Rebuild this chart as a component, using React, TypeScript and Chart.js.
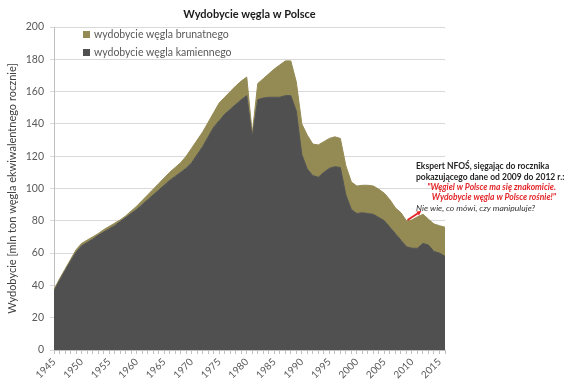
import React, { useEffect, useRef } from "react";
import { Chart, registerables } from "chart.js";

Chart.register(...registerables);

const years = [
  1945, 1946, 1947, 1948, 1949, 1950, 1951, 1952, 1953, 1954,
  1955, 1956, 1957, 1958, 1959, 1960, 1961, 1962, 1963, 1964,
  1965, 1966, 1967, 1968, 1969, 1970, 1971, 1972, 1973, 1974,
  1975, 1976, 1977, 1978, 1979, 1980, 1981, 1982, 1983, 1984,
  1985, 1986, 1987, 1988, 1989, 1990, 1991, 1992, 1993, 1994,
  1995, 1996, 1997, 1998, 1999, 2000, 2001, 2002, 2003, 2004,
  2005, 2006, 2007, 2008, 2009, 2010, 2011, 2012, 2013, 2014,
  2015, 2016,
];

// wydobycie węgla kamiennego
const hardCoal = [
  36.5, 43, 49, 55, 60.5, 64.5, 66.5, 68.5, 71, 73,
  75, 77, 79.5, 82, 84.5, 87, 90, 93, 96, 99,
  102, 105, 107.5, 110, 112.5, 116, 121, 126, 132, 138,
  142, 146, 149, 152, 155, 157.5, 132, 155, 156, 156.5,
  156.5, 156.5, 157.5, 157.5, 148, 121, 112, 108, 107, 110,
  112.5, 113.5, 113, 96, 87, 84.5, 85, 84.5, 84, 82,
  80, 76, 72, 68, 64, 63, 63, 66, 65, 61,
  60, 58,
];

// wydobycie węgla brunatnego
const lignite = [
  1, 1, 1, 1, 1.5, 1.5, 1.5, 1.5, 1, 1.5,
  1.5, 1.5, 1, 1, 1.5, 2, 2.5, 3, 3.5, 4,
  4.5, 5, 5.5, 6, 7.5, 9, 9, 9, 9, 9,
  11, 10.5, 11, 11.5, 11.5, 11.5, 2, 10, 12, 14.5,
  17.5, 20, 21.5, 21.5, 18, 19, 21, 19.5, 20, 19,
  18.5, 18.5, 18, 18, 17, 17, 17, 17.5, 17.5, 17.5,
  17, 17, 16, 17, 16, 17.5, 19.5, 18, 16, 17,
  17, 18,
];

const chartTitle = "Wydobycie węgla w Polsce";
const seriesLabels = ["wydobycie węgla kamiennego", "wydobycie węgla brunatnego"];
const yAxisTitle = "Wydobycie [mln ton węgla ekwiwalentnego rocznie]";
const noteLines = [
  "Ekspert NFOŚ, sięgając do rocznika",
  "pokazującego dane od 2009 do 2012 r.:",
];
const quoteLines = [
  "\"Węgiel w Polsce ma się znakomicie.",
  "Wydobycie węgla w Polsce rośnie!\"",
];
const commentLine = "Nie wie, co mówi, czy manipuluje?";
// arrow from (year, value) to (year, value)
const arrowFrom = [2009.2, 80.5];
const arrowTo = [2011.7, 86];

const DARK = "#505050";
const OLIVE = "#948A54";
const FONT = "Lato, 'Open Sans', sans-serif";

export default function App() {
  const ref = useRef<HTMLCanvasElement>(null);

  useEffect(() => {
    const canvas = ref.current;
    if (!canvas) return;

    const overlay = {
      id: "overlay",
      afterDraw(chart: any) {
        const ctx = chart.ctx as CanvasRenderingContext2D;
        const ca = chart.chartArea;
        ctx.save();
        // title
        ctx.font = `bold 11px ${FONT}`;
        ctx.fillStyle = "#1a1a1a";
        ctx.textAlign = "center";
        ctx.textBaseline = "middle";
        ctx.fillText(chartTitle, (ca.left + ca.right) / 2, 14);

        // legend
        ctx.font = `10.5px ${FONT}`;
        ctx.textAlign = "left";
        ctx.fillStyle = OLIVE;
        ctx.fillRect(83, 31, 7, 7);
        ctx.fillStyle = "#595959";
        ctx.fillText(seriesLabels[1], 94, 35);
        ctx.fillStyle = DARK;
        ctx.fillRect(83, 49, 7, 7);
        ctx.fillStyle = "#595959";
        ctx.fillText(seriesLabels[0], 94, 53);

        // annotation
        ctx.font = `bold 8.5px ${FONT}`;
        ctx.fillStyle = "#262626";
        ctx.fillText(noteLines[0], 416, 166);
        ctx.fillText(noteLines[1], 416, 177);
        ctx.font = `italic bold 8.5px ${FONT}`;
        ctx.fillStyle = "#e3262a";
        ctx.textAlign = "right";
        ctx.fillText(quoteLines[0], 556, 187);
        ctx.fillText(quoteLines[1], 556, 197);
        ctx.font = `italic 8.5px ${FONT}`;
        ctx.fillStyle = "#333333";
        ctx.textAlign = "left";
        ctx.fillText(commentLine, 416, 208);

        // arrow
        const xs = chart.scales.x;
        const ys = chart.scales.y;
        const x1 = xs.getPixelForValue(arrowFrom[0]);
        const y1 = ys.getPixelForValue(arrowFrom[1]);
        const x2 = xs.getPixelForValue(arrowTo[0]);
        const y2 = ys.getPixelForValue(arrowTo[1]);
        const ang = Math.atan2(y2 - y1, x2 - x1);
        ctx.strokeStyle = "#e3262a";
        ctx.fillStyle = "#e3262a";
        ctx.lineWidth = 2;
        ctx.beginPath();
        ctx.moveTo(x1, y1);
        ctx.lineTo(x2 - 3 * Math.cos(ang), y2 - 3 * Math.sin(ang));
        ctx.stroke();
        ctx.beginPath();
        ctx.moveTo(x2, y2);
        ctx.lineTo(x2 - 5 * Math.cos(ang - 0.5), y2 - 5 * Math.sin(ang - 0.5));
        ctx.lineTo(x2 - 5 * Math.cos(ang + 0.5), y2 - 5 * Math.sin(ang + 0.5));
        ctx.closePath();
        ctx.fill();
        ctx.restore();
      },
    };

    const chart = new Chart(canvas, {
      type: "line",
      data: {
        datasets: [
          {
            label: seriesLabels[0],
            data: years.map((x, i) => ({ x, y: hardCoal[i] })),
            backgroundColor: DARK,
            borderColor: DARK,
            borderWidth: 1,
            fill: "origin",
            pointRadius: 0,
            tension: 0,
          },
          {
            label: seriesLabels[1],
            data: years.map((x, i) => ({ x, y: lignite[i] })),
            backgroundColor: OLIVE,
            borderColor: OLIVE,
            borderWidth: 1,
            fill: "-1",
            pointRadius: 0,
            tension: 0,
          },
        ],
      },
      options: {
        animation: false,
        responsive: false,
        devicePixelRatio: 1,
        layout: { padding: { top: 27, right: 125, left: 0, bottom: 0 } },
        plugins: {
          legend: { display: false },
          title: { display: false },
          tooltip: { enabled: false },
        },
        scales: {
          x: {
            type: "linear",
            min: 1945,
            max: 2016,
            offset: false,
            afterBuildTicks: (s: any) => {
              s.ticks = years.map((v) => ({ value: v }));
            },
            ticks: {
              autoSkip: false,
              minRotation: 45,
              maxRotation: 45,
              padding: 2,
              color: "#595959",
              font: { family: FONT, size: 10 },
              callback: (v: any) => (Number(v) % 5 === 0 ? String(v) : ""),
            },
            grid: { drawOnChartArea: false, tickLength: 4, color: "#bfbfbf" },
            border: { color: "#bfbfbf" },
            afterFit: (s: any) => {
              s.height = 39;
            },
          },
          y: {
            stacked: true,
            min: 0,
            max: 200,
            ticks: {
              stepSize: 20,
              color: "#595959",
              padding: 6,
              font: { family: FONT, size: 10.5 },
            },
            grid: { color: "#d9d9d9", tickLength: 4 },
            border: { color: "#bfbfbf" },
            title: {
              display: true,
              text: yAxisTitle,
              color: "#404040",
              font: { family: FONT, size: 11 },
              padding: { top: 6, bottom: 0 },
            },
            afterFit: (s: any) => {
              s.width = 54;
            },
          },
        },
      },
      plugins: [overlay],
    } as any);

    return () => chart.destroy();
  }, []);

  return (
    <canvas
      ref={ref}
      width={570}
      height={389}
      style={{ position: "fixed", left: 0, top: 0, width: 570, height: 389 }}
    />
  );
}
